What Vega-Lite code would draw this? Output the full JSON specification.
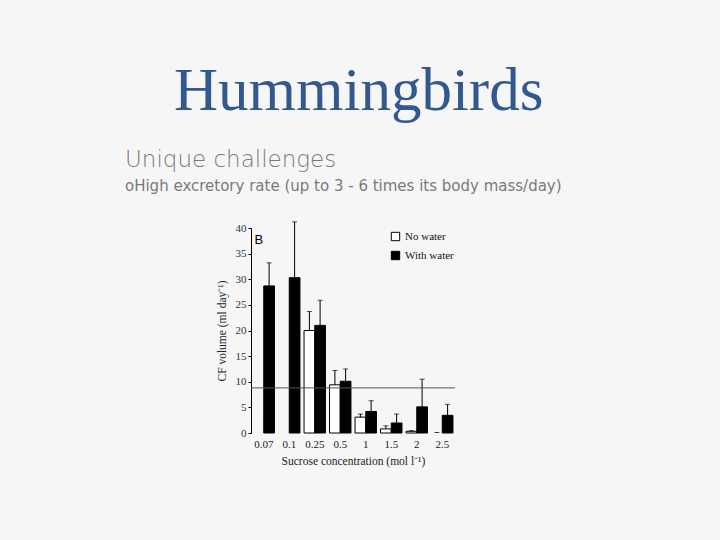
{
  "$schema": "https://vega.github.io/schema/vega-lite/v6.json",
  "background": "#f6f6f6",
  "padding": {"left": 125, "top": 61, "right": 170, "bottom": 80},
  "title": {
    "text": "Hummingbirds",
    "anchor": "start",
    "frame": "group",
    "dx": -77,
    "offset": 26,
    "font": "Liberation Serif",
    "fontSize": 61,
    "fontWeight": "normal",
    "color": "#31598f"
  },
  "datasets": {
    "bars": [
      {"conc": "0.07", "series": "No water", "value": 0, "upper": null},
      {"conc": "0.07", "series": "With water", "value": 28.7, "upper": 33.2},
      {"conc": "0.1", "series": "No water", "value": 0, "upper": null},
      {"conc": "0.1", "series": "With water", "value": 30.3, "upper": 41.2},
      {"conc": "0.25", "series": "No water", "value": 20.0, "upper": 23.7},
      {"conc": "0.25", "series": "With water", "value": 21.0, "upper": 25.9},
      {"conc": "0.5", "series": "No water", "value": 9.4, "upper": 12.2},
      {"conc": "0.5", "series": "With water", "value": 10.1, "upper": 12.5},
      {"conc": "1", "series": "No water", "value": 3.1, "upper": 3.7},
      {"conc": "1", "series": "With water", "value": 4.2, "upper": 6.3},
      {"conc": "1.5", "series": "No water", "value": 0.8, "upper": 1.4},
      {"conc": "1.5", "series": "With water", "value": 1.95, "upper": 3.7},
      {"conc": "2", "series": "No water", "value": 0.33, "upper": 0.45},
      {"conc": "2", "series": "With water", "value": 5.1, "upper": 10.5},
      {"conc": "2.5", "series": "No water", "value": 0, "upper": 0.1},
      {"conc": "2.5", "series": "With water", "value": 3.45, "upper": 5.6}
    ]
  },
  "vconcat": [
    {
      "width": 204,
      "height": 205,
      "title": {
        "text": "Unique challenges",
        "subtitle": "oHigh excretory rate (up to 3 - 6 times its body mass/day)",
        "anchor": "start",
        "frame": "group",
        "dx": -126,
        "offset": 27,
        "font": "DejaVu Sans",
        "fontSize": 23,
        "fontWeight": 200,
        "color": "#7a7a7a",
        "subtitleFont": "DejaVu Sans",
        "subtitleFontSize": 15,
        "subtitleColor": "#7a7a7a",
        "subtitlePadding": 7
      },
      "data": {"name": "bars"},
      "layer": [
        {
          "transform": [{"filter": "datum.value > 0"}],
          "mark": {"type": "bar", "stroke": "black", "strokeWidth": 1},
          "encoding": {
            "x": {
              "field": "conc", "type": "ordinal",
              "sort": ["0.07", "0.1", "0.25", "0.5", "1", "1.5", "2", "2.5"],
              "scale": {"paddingInner": 0.16, "paddingOuter": 0.08},
              "title": "Sucrose concentration (mol l⁻¹)"
            },
            "xOffset": {"field": "series", "type": "nominal", "scale": {"domain": ["No water", "With water"]}},
            "y": {
              "field": "value", "type": "quantitative",
              "scale": {"domain": [0, 40], "nice": false},
              "title": "CF volume (ml day⁻¹)"
            },
            "color": {
              "field": "series", "type": "nominal",
              "scale": {"domain": ["No water", "With water"], "range": ["white", "black"]},
              "legend": {
                "title": null, "orient": "none", "legendX": 139, "legendY": 3,
                "symbolType": "square", "symbolSize": 70, "symbolStrokeColor": "black",
                "symbolStrokeWidth": 1, "labelFont": "Liberation Serif", "labelFontSize": 11,
                "labelColor": "#111", "rowPadding": 6, "labelOffset": 4
              }
            }
          }
        },
        {
          "transform": [{"filter": "datum.upper != null"}],
          "mark": {"type": "rule", "color": "black", "strokeWidth": 1},
          "encoding": {
            "x": {"field": "conc", "type": "ordinal", "sort": ["0.07", "0.1", "0.25", "0.5", "1", "1.5", "2", "2.5"], "title": "Sucrose concentration (mol l⁻¹)"},
            "xOffset": {"field": "series", "type": "nominal"},
            "y": {"field": "value", "type": "quantitative", "title": "CF volume (ml day⁻¹)"},
            "y2": {"field": "upper"}
          }
        },
        {
          "transform": [{"filter": "datum.upper != null"}],
          "mark": {"type": "tick", "color": "black", "thickness": 1, "size": 5},
          "encoding": {
            "x": {"field": "conc", "type": "ordinal", "sort": ["0.07", "0.1", "0.25", "0.5", "1", "1.5", "2", "2.5"], "title": "Sucrose concentration (mol l⁻¹)"},
            "xOffset": {"field": "series", "type": "nominal"},
            "y": {"field": "upper", "type": "quantitative", "title": "CF volume (ml day⁻¹)"}
          }
        },
        {
          "data": {"values": [{"ref": 8.8}]},
          "mark": {"type": "rule", "color": "#555", "strokeWidth": 1},
          "encoding": {
            "y": {"field": "ref", "type": "quantitative", "title": "CF volume (ml day⁻¹)"}
          }
        },
        {
          "data": {"values": [{"label": "B"}]},
          "mark": {"type": "text", "font": "Liberation Sans", "fontSize": 13, "color": "black", "align": "center", "baseline": "middle", "dx": -5},
          "encoding": {
            "x": {"datum": "0.07", "type": "ordinal"},
            "y": {"datum": 37.6, "type": "quantitative"},
            "text": {"field": "label"}
          }
        }
      ]
    }
  ],
  "config": {
    "view": {"stroke": null},
    "axisX": {
      "labelAngle": 0, "domain": false, "ticks": false, "labelPadding": 5,
      "labelFont": "Liberation Serif", "labelFontSize": 11, "labelColor": "#222",
      "titleFont": "Liberation Serif", "titleFontSize": 11.5, "titleFontWeight": "normal",
      "titleColor": "#222", "titlePadding": 6
    },
    "axisY": {
      "tickCount": 8, "labelOverlap": false,
      "grid": false, "domainColor": "black", "tickColor": "black", "tickSize": 3,
      "labelFont": "Liberation Serif", "labelFontSize": 11, "labelColor": "#333", "labelPadding": 2,
      "titleFont": "Liberation Serif", "titleFontSize": 11.5, "titleFontWeight": "normal",
      "titleColor": "#222", "titlePadding": 8
    }
  }
}
